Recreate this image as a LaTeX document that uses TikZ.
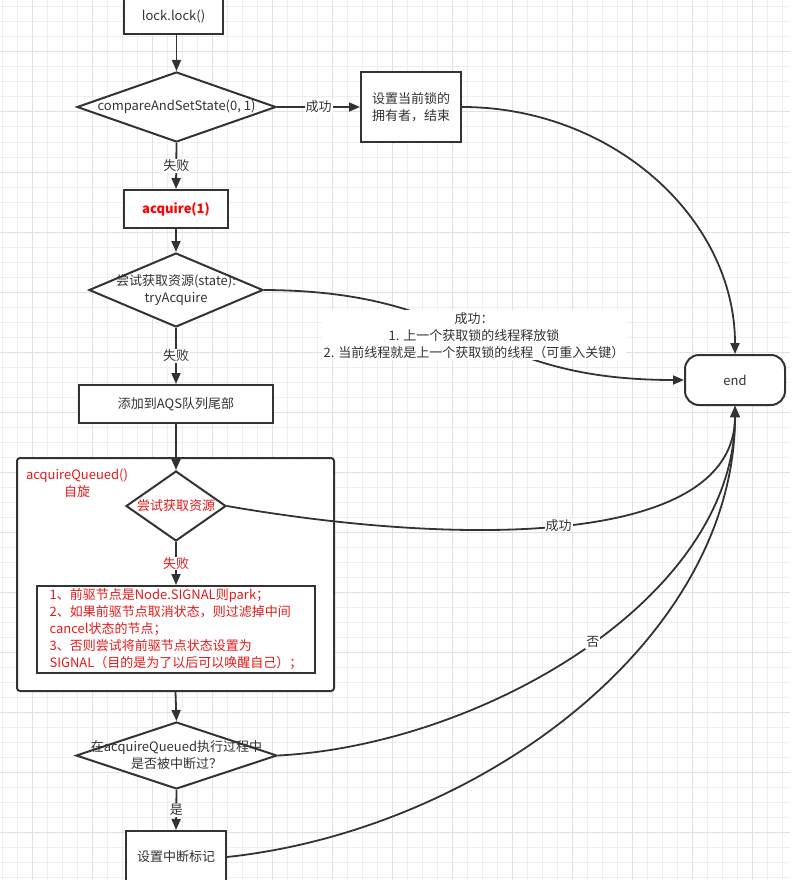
\documentclass[tikz,border=0pt]{standalone}
\usepackage{fontspec}
\setmainfont{Noto Sans CJK SC}
\usetikzlibrary{shapes.geometric,arrows.meta}
\definecolor{txt}{HTML}{333333}
\definecolor{ln}{HTML}{333333}
\definecolor{gmin}{HTML}{EEEEEE}
\definecolor{gmaj}{HTML}{E0E0E0}
\definecolor{rd}{HTML}{FF0000}
\definecolor{rd2}{HTML}{E31B1B}
\begin{document}
\begin{tikzpicture}[x=1pt,y=-1pt,
  every node/.style={font=\fontsize{13}{17}\selectfont, text=txt},
  box/.style={draw=ln, line width=2pt, fill=white, inner sep=0pt, align=center},
  dia/.style={diamond, draw=ln, line width=2pt, fill=white, inner sep=0pt},
  conn/.style={draw=ln, line width=1.8pt, -{Triangle[length=11pt,width=9pt]}},
  lbl/.style={fill=white, inner sep=1pt},
]
\clip (0,0) rectangle (798,880);
\fill[white] (0,0) rectangle (798,880);
% grid
\foreach \x in {2,17,...,790} \draw[gmin, line width=1pt] (\x,0) -- (\x,880);
\foreach \y in {7,22,...,880} \draw[gmin, line width=1pt] (0,\y) -- (790,\y);
\foreach \x in {32,92,...,790} \draw[gmaj, line width=1pt] (\x,0) -- (\x,880);
\foreach \y in {52,112,...,880} \draw[gmaj, line width=1pt] (0,\y) -- (790,\y);

% nodes
\node[box, minimum width=99pt, minimum height=36pt] (lock) at (173.5,16) {lock.lock()};
\node[dia, minimum width=199pt, minimum height=70pt, label={center:{compareAndSetState(0, 1)}}] (d1) at (176.5,107) {};
\node[box, minimum width=100pt, minimum height=70pt] (own) at (411,107) {设置当前锁的\\拥有者，结束};
\node[box, minimum width=104pt, minimum height=38pt, font=\fontsize{13}{17}\selectfont\bfseries, text=rd] (acq) at (176,209) {acquire(1)};
\node[dia, minimum width=174pt, minimum height=74pt, label={[align=center]center:{尝试获取资源(state):\\tryAcquire}}] (d2) at (176,290) {};
\node[box, minimum width=194pt, minimum height=38pt] (add) at (176,404) {添加到AQS队列尾部};
\node[draw=ln, line width=2pt, fill=white, rounded corners=3pt, minimum width=317pt, minimum height=233pt, inner sep=0pt] (aq) at (175.5,574.5) {};
\node[align=center, text=rd2] (aqt) at (77,483) {acquireQueued()\\自旋};
\node[dia, minimum width=100pt, minimum height=70pt, label={[text=rd2]center:{尝试获取资源}}] (d3) at (176,506) {};
\node[box, minimum width=278pt, minimum height=87pt, align=left, text=rd2] (rb) at (176,629.5) {1、前驱节点是Node.SIGNAL则park；\\2、如果前驱节点取消状态，则过滤掉中间\\cancel状态的节点；\\3、否则尝试将前驱节点状态设置为\\SIGNAL（目的是为了以后可以唤醒自己）；};
\node[dia, minimum width=201pt, minimum height=67pt, label={[align=center]center:{在acquireQueued执行过程中\\是否被中断过？}}] (d4) at (176.5,755.5) {};
\node[box, minimum width=100pt, minimum height=52pt] (intr) at (176,857) {设置中断标记};
\node[box, rounded corners=14pt, minimum width=100pt, minimum height=50pt] (end) at (735,380) {end};

% straight connectors
\draw[conn] (lock.south -| d1.north) -- (d1.north);
\draw[conn] (d1.east) -- node[lbl] {成功} (own.west);
\draw[conn] (d1.south) -- node[lbl] {失败} (acq.north);
\draw[conn] (acq.south) -- (d2.north);
\draw[conn] (d2.south) -- node[lbl] {失败} (add.north);
\draw[conn] (add.south) -- (d3.north);
\draw[conn] (d3.south) -- node[lbl, text=rd2] {失败} (rb.north);
\draw[conn] (aq.south) -- (d4.north);
\draw[conn] (d4.south) -- node[lbl] {是} (intr.north);

% curved connectors
\draw[conn] (own.east) .. controls (612,107) and (735,218) .. (end.north);
\draw[conn] (d2.east) .. controls (474,291) and (474,380) .. node[pos=0.5, fill=white, inner sep=2pt, align=center, minimum width=304pt, minimum height=48pt] {成功：\\1. 上一个获取锁的线程释放锁\\2. 当前线程就是上一个获取锁的线程（可重入关键）} (end.west);
\draw[conn] (d3.east) .. controls (450,545) and (735,550) .. node[pos=0.49, lbl] {成功} (end.south);
\draw[conn] (d4.east) .. controls (480,745) and (735,600) .. node[pos=0.52, lbl] {否} (end.south);
\draw[conn] (intr.east) .. controls (480,830) and (735,640) .. (end.south);
\end{tikzpicture}
\end{document}
